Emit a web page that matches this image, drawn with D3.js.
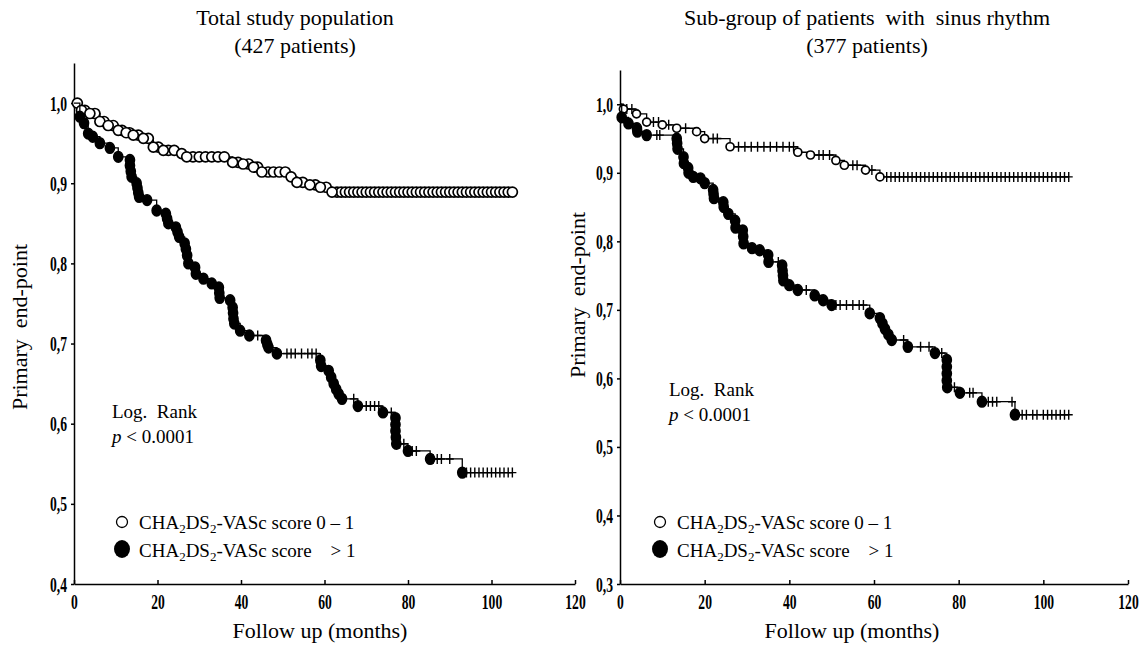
<!DOCTYPE html>
<html>
  <head>
    <meta charset="utf-8">
    <script src="https://cdn.jsdelivr.net/npm/d3@7"></script>
    <style>
      body { margin: 0; background: #fff; }
      text { font-family: "Liberation Serif", "Times New Roman", serif; fill: #000; }
    </style>
  </head>
  <body>
    <script>

    // Total population, CHA2DS2-VASc 0-1 : events as [months, survival after event]
    var totalLowEvents = [[1.8,0.991],[3.8,0.987],[6.2,0.977],[8.2,0.972],[10.6,0.966],[12.5,0.963],
      [14.2,0.96],[16.6,0.956],[19,0.945],[21.4,0.941],[25.8,0.937],[27,0.933],[38,0.926],
      [40.5,0.924],[43,0.92],[45,0.914],[52,0.908],[53.4,0.901],[56.5,0.898],[59,0.895],[61.8,0.889]];
    var totalLowCensored = [0.8,2.6,5,7.2,9.4,11.5,13.3,15.4,17.8,20.2,22.6,24,28.5,30,31.5,33,34.5,36,
      39.3,41.8,44,46.5,47.8,49.2,50.6,54.8,57.8,60.4,63,64,65,66,67,68,69,70,71,72,73,74,75,76,77,78,79,80,
      81,82,83,84,85,86,87,88,89,90,91,92,93,94,95,96,97,98,99,100,101,102,103,104,105];

    // Total population, CHA2DS2-VASc > 1
    var totalHighEvents = [[1.4,0.983],[2.4,0.975],[3.4,0.962],[4.5,0.958],[6.2,0.95],[8.6,0.944],
      [10.6,0.933],[13.4,0.929],[13.4,0.922],[13.6,0.915],[13.8,0.908],[15,0.9],[15.2,0.894],[15.4,0.888],
      [15.6,0.883],[17.5,0.879],[19.8,0.866],[22,0.862],[22.3,0.856],[22.6,0.85],[24.4,0.845],[24.8,0.839],
      [25.2,0.833],[26.5,0.825],[26.8,0.818],[27.1,0.81],[27.4,0.8],[29,0.795],[29.2,0.787],[31,0.781],
      [33,0.775],[34.7,0.77],[34.8,0.763],[34.9,0.757],[37.4,0.754],[38,0.745],[38.1,0.738],[38.2,0.731],
      [38.4,0.725],[39.8,0.716],[42,0.71],[46,0.704],[46.3,0.699],[46.6,0.695],[48.6,0.6875],[59,0.679],
      [59.2,0.672],[61,0.666],[61.6,0.658],[62.2,0.65],[62.8,0.643],[63.4,0.637],[64.2,0.631],[68,0.622],
      [74,0.614],[77,0.607],[77,0.599],[77,0.591],[77.1,0.583],[77.2,0.575],[80,0.566],[85.3,0.556],[93,0.539]];
    var totalHighCensored = [44,51,52,53,54.5,56,57,58,67,70,71,72,73,76,78,79,81,82,86,87,88,90,
      94,95,96,97,98,99,100,101,102,103,104,105];

    // Sinus rhythm sub-group, CHA2DS2-VASc 0-1
    var sinusLowEvents = [[0.8,0.993],[3.9,0.986],[6.3,0.974],[10,0.97],[13.4,0.965],[18.1,0.96],
      [20,0.95],[26,0.938],[42,0.93],[45,0.926],[51,0.918],[53,0.911],[58,0.904],[61.4,0.894]];
    var sinusLowCensored = [1.6,2.8,7.9,9.1,11.5,15.5,22,23,28,29.5,31,32.5,34,35.5,37,38.5,40,41,
      47,48,49.5,55,56,59.5,63,64,65,66,67,68,69,70,71,72,73,74,75,76,77,78,79,80,81,82,83,84,85,86,
      87,88,89,90,91,92,93,94,95,96,97,98,99,100,101,102,103,104,105,106];

    // Sinus rhythm sub-group, CHA2DS2-VASc > 1
    var sinusHighEvents = [[0.4,0.981],[2,0.972],[4,0.965],[4.1,0.96],[6.3,0.955],[13.4,0.95],
      [13.5,0.943],[13.6,0.935],[15,0.923],[15.1,0.914],[16.1,0.907],[16.2,0.9],[17.3,0.894],[19,0.892],
      [20,0.885],[22,0.875],[22.1,0.869],[22.2,0.863],[24.4,0.857],[24.5,0.85],[25.6,0.84],[27.2,0.83],
      [27.3,0.82],[29,0.816],[29.1,0.807],[29.2,0.797],[31.2,0.79],[33,0.787],[35,0.78],[35.1,0.77],
      [38.3,0.765],[38.4,0.757],[38.5,0.75],[38.6,0.743],[40,0.736],[42,0.729],[46,0.721],[48,0.714],
      [50,0.707],[59,0.695],[61.4,0.688],[62,0.68],[62.6,0.672],[63.4,0.664],[64.2,0.656],[68,0.646],
      [74.4,0.637],[77.2,0.627],[77.2,0.617],[77.2,0.607],[77.2,0.597],[77.3,0.587],[80.3,0.579],
      [85.5,0.566],[93.3,0.547]];
    var sinusHighCensored = [8.7,9.4,37.4,44,51,52,53.5,55,56.5,57.5,67,71,73,76,79,82.6,83.4,87,88,89,
      92.6,94,95,96,97.5,98.5,100,101,102,103,104,105,106];

    // Tick labels
    var xTicks = [0, 20, 40, 60, 80, 100, 120];
    var totalYTicks = [0.4, 0.5, 0.6, 0.7, 0.8, 0.9, 1.0];
    var sinusYTicks = [0.3, 0.4, 0.5, 0.6, 0.7, 0.8, 0.9, 1.0];

    var svg = d3.select("body").append("svg")
      .attr("width", 1143)
      .attr("height", 659);

    // Survival at a given time (value of the step curve)
    function survivalAt(events, t) {
      var s = 1;
      events.forEach(function(e) { if (e[0] <= t) s = e[1]; });
      return s;
    }

    // Kaplan-Meier step path points
    function stepPoints(events, censored) {
      var pts = [[0, 1]];
      var prev = 1;
      events.forEach(function(e) {
        pts.push([e[0], prev]);
        pts.push([e[0], e[1]]);
        prev = e[1];
      });
      var end = Math.max(d3.max(censored), events[events.length - 1][0]);
      pts.push([end, prev]);
      return pts;
    }

    // Legend label with subscripts
    function subLabel(g, x, y, rest) {
      var t = g.append("text")
        .attr("x", x).attr("y", y)
        .style("font-size", "19px")
        .style("white-space", "pre");
      t.append("tspan").text("CHA");
      t.append("tspan").attr("dy", 4).style("font-size", "13px").text("2");
      t.append("tspan").attr("dy", -4).text("DS");
      t.append("tspan").attr("dy", 4).style("font-size", "13px").text("2");
      t.append("tspan").attr("dy", -4).text(rest);
    }

    // Tick labels are drawn narrow, like a condensed face
    var squeeze = 0.68;

    function drawPanel(p) {
      var x = d3.scaleLinear().domain([0, 120]).range([p.left, p.right]);
      var y = d3.scaleLinear().domain([p.yMin, 1.05]).range([584, p.top]);
      var g = svg.append("g");

      // Titles
      g.append("text")
        .attr("x", p.titleX).attr("y", 25)
        .attr("text-anchor", "middle")
        .style("font-size", "22px")
        .style("white-space", "pre")
        .text(p.title);
      g.append("text")
        .attr("x", p.titleX).attr("y", 53)
        .attr("text-anchor", "middle")
        .style("font-size", "22px")
        .text(p.subtitle);

      // Axes
      var fmt = function(d) { return d3.format(".1f")(d).replace(".", ","); };
      var yAxis = g.append("g")
        .attr("transform", "translate(" + p.left + ",0)")
        .call(d3.axisLeft(y).tickValues(p.yTicks).tickFormat(fmt).tickSize(3).tickSizeOuter(0).tickPadding(4));
      var xAxis = g.append("g")
        .attr("transform", "translate(0,584)")
        .call(d3.axisBottom(x).tickValues(xTicks).tickSize(-4).tickSizeOuter(0).tickPadding(11));
      [xAxis, yAxis].forEach(function(a) {
        a.select(".domain").attr("stroke", "#000").attr("stroke-width", 1.5);
        a.selectAll(".tick line").attr("stroke", "#000").attr("stroke-width", 1.5);
        a.selectAll(".tick text")
          .style("font-family", "'Liberation Serif', serif")
          .style("font-size", "20px")
          .style("font-weight", "bold")
          .attr("fill", "#000")
          .attr("transform", "scale(" + squeeze + ",1)");
      });
      yAxis.selectAll(".tick text")
        .attr("dy", "0.35em")
        .attr("x", function() { return +d3.select(this).attr("x") / squeeze; });

      // Axis labels
      g.append("text")
        .attr("text-anchor", "middle")
        .attr("transform", "translate(" + p.yLabelX + "," + p.yLabelY + ")rotate(-90)")
        .style("font-size", "22px")
        .style("white-space", "pre")
        .text("Primary  end-point");
      g.append("text")
        .attr("x", p.xLabelX).attr("y", 638)
        .attr("text-anchor", "middle")
        .style("font-size", "22px")
        .text("Follow up (months)");

      var line = d3.line().x(function(d) { return x(d[0]); }).y(function(d) { return y(d[1]); });

      p.groups.forEach(function(grp) {
        g.append("path")
          .attr("d", line(stepPoints(grp.events, grp.censored)))
          .attr("fill", "none")
          .attr("stroke", "#000")
          .attr("stroke-width", 1.3);

        // Censored cases
        if (grp.censorShape === "circle") {
          g.selectAll(null).data(grp.censored).enter().append("circle")
            .attr("cx", function(d) { return x(d); })
            .attr("cy", function(d) { return y(survivalAt(grp.events, d)); })
            .attr("r", grp.r)
            .attr("fill", "#fff").attr("stroke", "#000").attr("stroke-width", 1.7);
        } else {
          g.selectAll(null).data(grp.censored).enter().append("path")
            .attr("d", function(d) {
              var cx = x(d), cy = y(survivalAt(grp.events, d));
              return "M" + cx + "," + (cy - 5) + "V" + (cy + 5) + "M" + (cx - 4) + "," + cy + "H" + (cx + 4);
            })
            .attr("stroke", "#000").attr("stroke-width", 1.4);
        }

        // Events
        g.selectAll(null).data(grp.events).enter().append("ellipse")
          .attr("cx", function(d) { return x(d[0]); })
          .attr("cy", function(d) { return y(d[1]); })
          .attr("rx", grp.r).attr("ry", grp.filled ? grp.r + 0.8 : grp.r)
          .attr("fill", grp.filled ? "#000" : "#fff")
          .attr("stroke", "#000").attr("stroke-width", 1.7);
      });

      // Log rank annotation
      g.append("text").attr("x", p.noteX).attr("y", p.noteY)
        .style("font-size", "19px").style("white-space", "pre").text("Log.  Rank");
      var pt = g.append("text").attr("x", p.noteX).attr("y", p.noteY + 25).style("font-size", "19px");
      pt.append("tspan").style("font-style", "italic").text("p");
      pt.append("tspan").text(" < 0.0001");

      // Legend
      g.append("circle").attr("cx", p.legendX).attr("cy", 522).attr("r", 5.5)
        .attr("fill", "#fff").attr("stroke", "#000").attr("stroke-width", 1.3);
      g.append("ellipse").attr("cx", p.legendX).attr("cy", 549).attr("rx", 8).attr("ry", 9)
        .attr("fill", "#000");
      subLabel(g, p.legendX + 17, 529, "-VASc score 0 \u2013 1");
      subLabel(g, p.legendX + 17, 557, "-VASc score    > 1");
    }

    drawPanel({
      left: 74, right: 575, top: 63, yMin: 0.4, yTicks: totalYTicks,
      title: "Total study population", subtitle: "(427 patients)", titleX: 295,
      xLabelX: 320, yLabelX: 27, yLabelY: 327, noteX: 112, noteY: 418, legendX: 122,
      groups: [
        { events: totalLowEvents, censored: totalLowCensored, filled: false, censorShape: "circle", r: 5 },
        { events: totalHighEvents, censored: totalHighCensored, filled: true, censorShape: "plus", r: 4.5 }
      ]
    });

    drawPanel({
      left: 620, right: 1128, top: 70, yMin: 0.3, yTicks: sinusYTicks,
      title: "Sub-group of patients  with  sinus rhythm", subtitle: "(377 patients)", titleX: 867,
      xLabelX: 852, yLabelX: 585, yLabelY: 295, noteX: 669, noteY: 396, legendX: 660,
      groups: [
        { events: sinusLowEvents, censored: sinusLowCensored, filled: false, censorShape: "plus", r: 4 },
        { events: sinusHighEvents, censored: sinusHighCensored, filled: true, censorShape: "plus", r: 4.5 }
      ]
    });
    </script>
  </body>
</html>
